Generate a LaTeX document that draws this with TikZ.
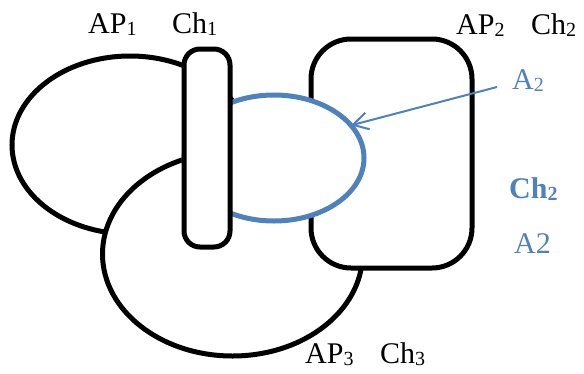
\documentclass[tikz,border=0pt]{standalone}
\usepackage{fontspec}
\setmainfont{Liberation Serif}
\usetikzlibrary{shapes.geometric,arrows.meta}
\definecolor{offblue}{RGB}{79,129,189}
\newcommand\sbs[1]{\raisebox{-2pt}{\fontsize{20}{24}\selectfont #1}}
\tikzset{
  shp/.style={draw=black, line width=5pt, fill=white, inner sep=0pt, outer sep=0pt},
  ell/.style={shp, ellipse},
  rbox/.style={shp, rectangle},
  lbl/.style={anchor=base west, inner sep=0pt, font=\fontsize{30}{36}\selectfont},
  blbl/.style={lbl, text=offblue}
}
\begin{document}
\begin{tikzpicture}[x=1pt,y=-1pt]
\useasboundingbox (0,0) rectangle (584,373);
\node[ell, minimum width=236, minimum height=178] (ap1) at (130,145) {};
\node[ell, minimum width=260, minimum height=204] (ap3) at (232.5,254) {};
\node[rbox, rounded corners=40pt, minimum width=161, minimum height=229] (ap2) at (391.5,153.5) {};
\node[ell, draw=offblue, minimum width=180, minimum height=126] (a2) at (274,158) {};
\node[rbox, rounded corners=16pt, minimum width=46, minimum height=198] (ch1) at (207,148) {};
\node[lbl] (tap1) at (88,33) {AP\sbs{1}};
\node[lbl] (tch1) at (172,33) {Ch\sbs{1}};
\node[lbl] (tap2) at (456,34) {AP\sbs{2}};
\node[lbl] (tch2) at (531,34) {Ch\sbs{2}};
\node[lbl] (tap3) at (305,363) {AP\sbs{3}};
\node[lbl] (tch3) at (380,363) {Ch\sbs{3}};
\node[blbl] (ta2) at (512,89) {A\sbs{2}};
\node[blbl, font=\fontsize{30}{36}\selectfont\bfseries] (tbch2) at (509,198) {Ch\sbs{2}};
\node[blbl] (tA2) at (514,253) {A2};
\coordinate (atail) at (497,87);
\draw[offblue, line width=2pt, -{Straight Barb[length=15pt,width=17pt]}] (atail) -- (a2.23);
\end{tikzpicture}
\end{document}
